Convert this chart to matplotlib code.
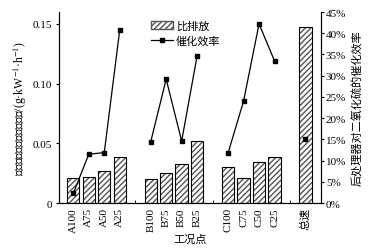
import matplotlib
matplotlib.use('Agg')
import matplotlib.pyplot as plt
from matplotlib.patches import Patch
from matplotlib.lines import Line2D

plt.rcParams['font.family'] = ['Liberation Serif', 'Noto Sans CJK SC']
plt.rcParams['font.size'] = 8
plt.rcParams['mathtext.fontset'] = 'stix'
plt.rcParams['axes.unicode_minus'] = False

# data
groups = [['A100', 'A75', 'A50', 'A25'],
          ['B100', 'B75', 'B50', 'B25'],
          ['C100', 'C75', 'C50', 'C25'],
          ['总速']]
emission = [[0.0206, 0.022, 0.0267, 0.0383],
            [0.020, 0.025, 0.0325, 0.0517],
            [0.0306, 0.0214, 0.0347, 0.039],
            [0.1478]]
efficiency = [[2.3, 11.5, 11.9, 40.8],
              [14.4, 29.2, 14.6, 34.7],
              [11.8, 24.0, 42.2, 33.5],
              [15.2]]

fig = plt.figure(figsize=(3.83, 2.51), dpi=100)
ax = fig.add_axes([0.153, 0.187, 0.685, 0.761])
ax2 = ax.twinx()

labels, gaps = [], []
start = 0
for i, g in enumerate(groups):
    xs = list(range(start, start + len(g)))
    ax.bar(xs, emission[i], width=0.8, facecolor='white', edgecolor='#555555',
           hatch='//////', linewidth=0, zorder=2)
    ax.bar(xs, emission[i], width=0.8, facecolor='none', edgecolor='black',
           linewidth=0.8, zorder=3)
    ax2.plot(xs, efficiency[i], '-s', color='black', lw=0.9, ms=3.5, zorder=4)
    labels += [(x, l) for x, l in zip(xs, g)]
    start += len(g)
    if i < len(groups) - 1:
        gaps.append(start)
    start += 1

ax.set_xticks([p for p, _ in labels])
ax.set_xticklabels([l for _, l in labels], rotation=90)
ax.set_xticks(gaps, minor=True)
ax.tick_params(axis='x', which='major', length=0, pad=3)
ax.tick_params(axis='x', which='minor', length=2.5, direction='in')
ax.set_xlim(-0.95, 16.0)

ax.set_ylim(0, 0.16)
ax.set_yticks([0, 0.05, 0.10, 0.15])
ax.set_yticklabels(['0', '0.05', '0.10', '0.15'])
ax.tick_params(axis='y', length=2.5, pad=2)

ax2.set_ylim(0, 45)
ax2.set_yticks(range(0, 50, 5))
ax2.set_yticklabels([f'{v}%' for v in range(0, 50, 5)])
ax2.tick_params(axis='y', length=2.5, pad=1)

for a in (ax, ax2):
    a.spines['top'].set_visible(False)

ax.set_xlabel('工况点', labelpad=1)
ax.set_ylabel('后处理后二氧化硫比排放/(g·kW$^{-1}$·h$^{-1}$)', labelpad=3,
              fontsize=8.5)
ax2.set_ylabel('后处理器对二氧化硫的催化效率', labelpad=4)

handles = [Patch(facecolor='white', edgecolor='#555555', hatch='//////'),
           Line2D([], [], color='black', marker='s', ms=3.5, lw=0.9)]
ax.legend(handles, ['比排放', '催化效率'], loc='upper left',
          bbox_to_anchor=(0.325, 0.99), frameon=False, handlelength=2.0,
          handletextpad=0.3, labelspacing=0.4, borderaxespad=0.2)

fig.savefig('out.png', dpi=100)
